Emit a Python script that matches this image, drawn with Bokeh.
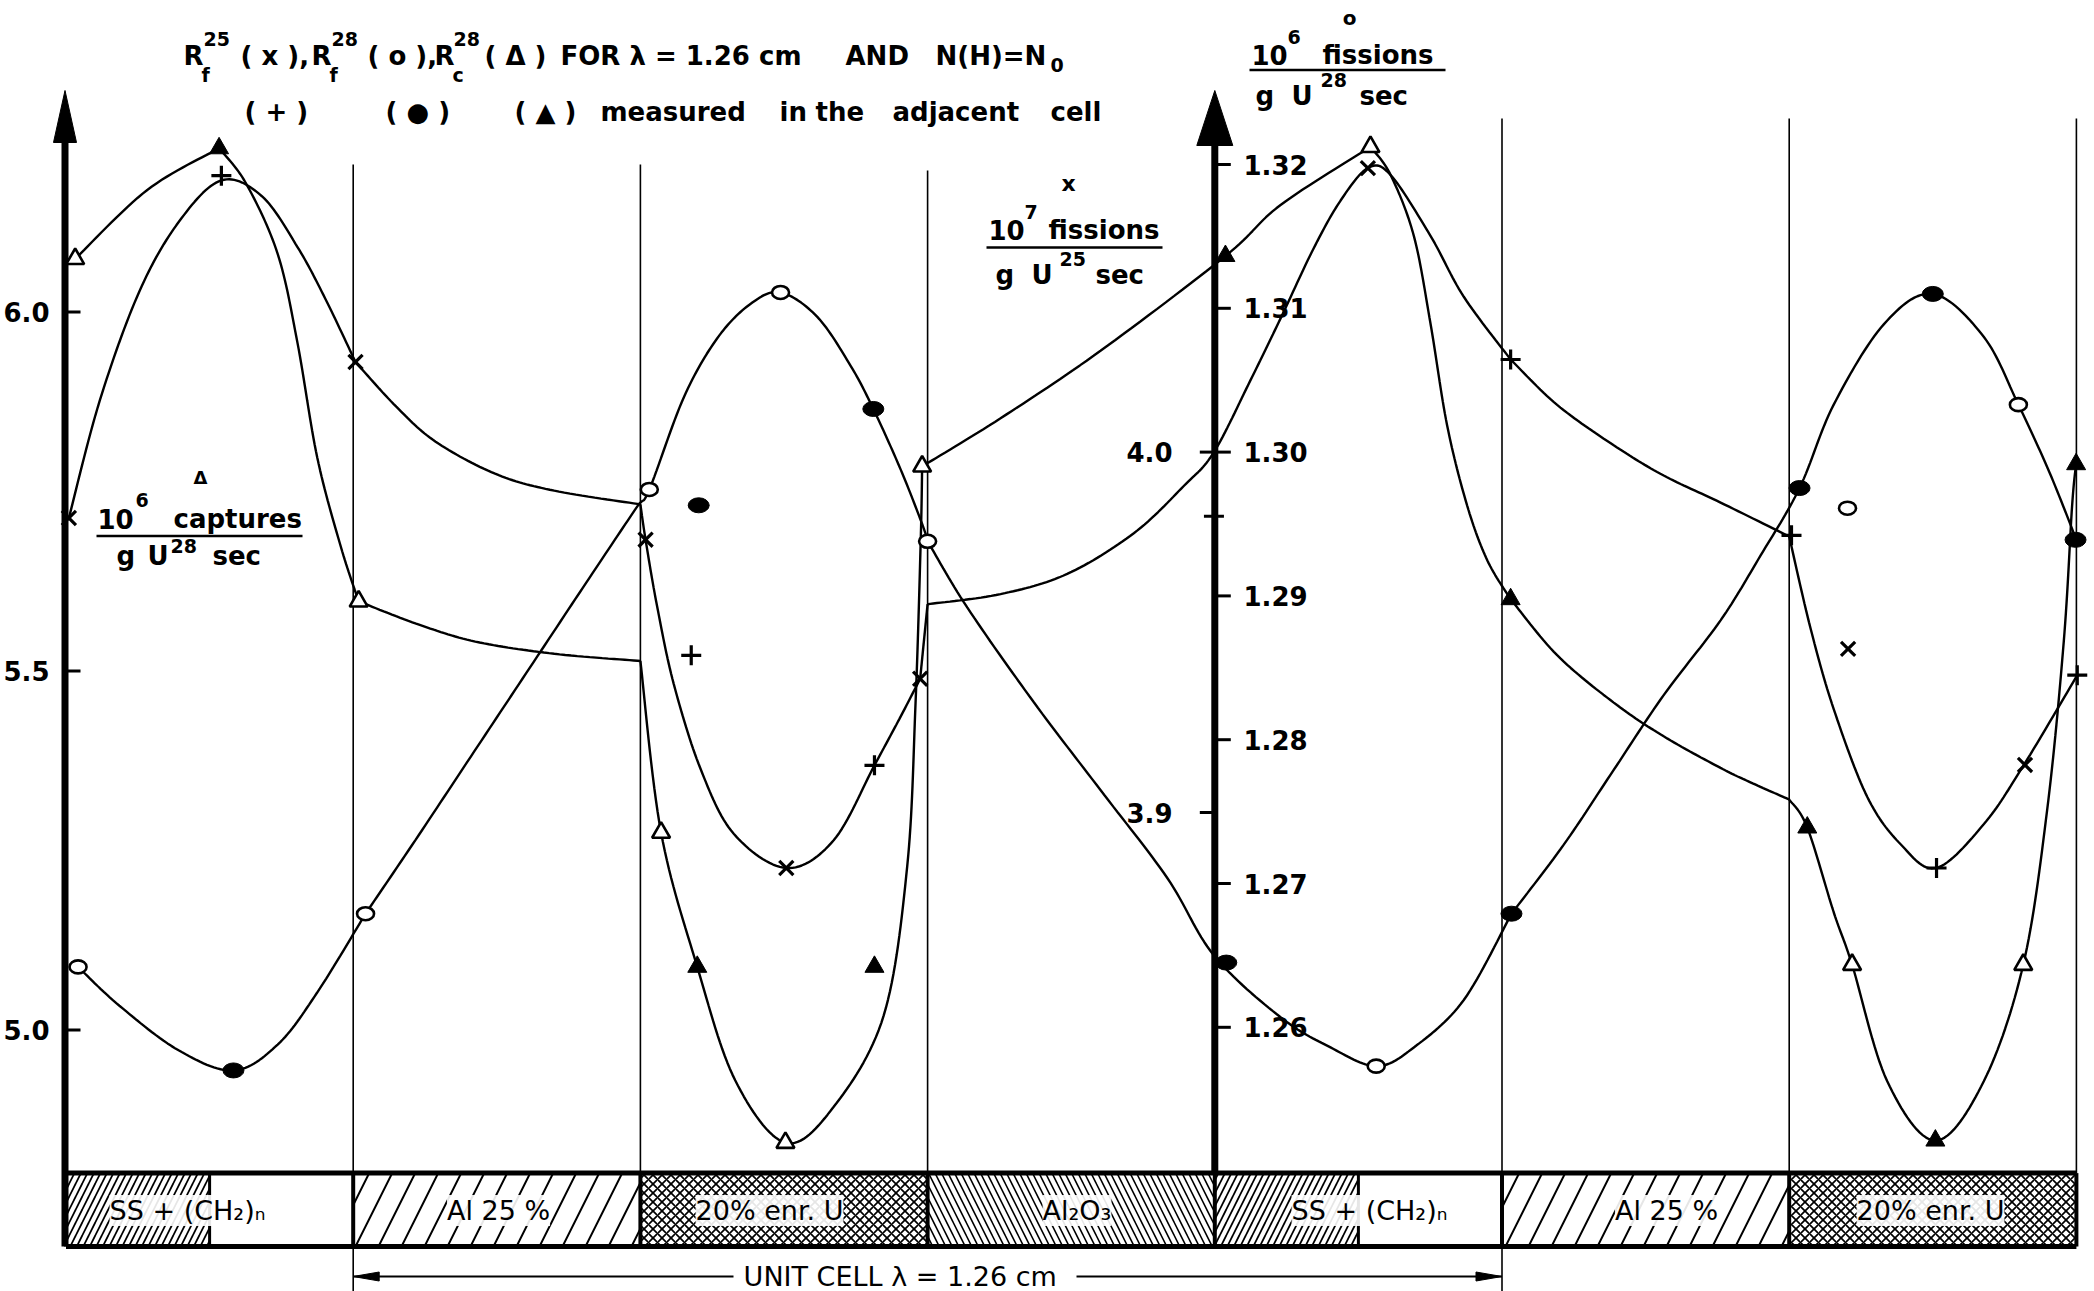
import numpy as np
from bokeh.plotting import figure
from bokeh.models import Range1d, FixedTicker, Label
from bokeh.embed import file_html
from bokeh.resources import INLINE

# ---------------------------------------------------------------- data
# x position in layer units: 0 = left face of the first SS layer, 1 unit per layer
LAYERS = ["SS + (CH₂)ₙ", "Al 25 %", "20% enr. U", "Al₂O₃", "SS + (CH₂)ₙ", "Al 25 %", "20% enr. U"]

CAPT_TICKS = [5.0, 5.5, 6.0]                                   # 10^6 captures / g U28 sec
F25_TICKS = [3.9, 4.0]                                         # 10^7 fissions / g U25 sec
F28_TICKS = [1.26, 1.27, 1.28, 1.29, 1.30, 1.31, 1.32]         # 10^6 fissions / g U28 sec

# R_c^28 : open = measured in this cell, filled = adjacent cell
RC_POS = [0.032, 1.019, 2.072, 2.505, 2.981, 4.542, 6.219, 6.815]
RC_VAL = [6.074, 5.597, 5.275, 4.843, 5.785, 6.230, 5.091, 5.091]
RC_ADJ_POS = [0.533, 2.198, 2.815, 4.037, 5.030, 6.063, 6.509, 6.999]
RC_ADJ_VAL = [6.228, 5.088, 5.088, 6.078, 5.600, 5.282, 4.846, 5.788]

# R_f^25
RF25_POS = [0.010, 1.008, 2.018, 2.508, 2.974, 4.533, 6.205, 6.821]
RF25_VAL = [3.9817, 4.0250, 3.9757, 3.8846, 3.9371, 4.0788, 3.9454, 3.9132]
RF25_ADJ_POS = [0.541, 2.177, 2.815, 3.997, 5.030, 6.008, 6.513, 7.003]
RF25_ADJ_VAL = [4.0767, 3.9436, 3.9131, 3.9822, 4.0257, 3.9769, 3.8846, 3.9381]

# R_f^28
RF28_POS = [0.042, 1.043, 2.031, 2.488, 3.000, 4.562, 6.203, 6.798]
RF28_VAL = [1.2642, 1.2679, 1.2974, 1.3111, 1.2938, 1.2573, 1.2961, 1.3033]
RF28_ADJ_POS = [0.583, 2.203, 2.811, 4.040, 5.033, 6.036, 6.500, 6.997]
RF28_ADJ_VAL = [1.2570, 1.2963, 1.3030, 1.2645, 1.2679, 1.2975, 1.3110, 1.2939]

# hand-fitted distribution curves, one list per piece between kinks
RC_CURVE = [
    [(0.032, 6.074), (0.283, 6.170), (0.533, 6.228)],
    [(0.533, 6.228), (0.627, 6.179), (0.737, 6.081), (0.806, 5.957), (0.875, 5.797),
     (0.957, 5.673), (1.019, 5.597)],
    [(1.019, 5.597), (1.219, 5.566), (1.425, 5.541), (1.700, 5.524), (2.000, 5.514)],
    [(2.000, 5.514), (2.072, 5.275), (2.198, 5.088), (2.330, 4.930), (2.505, 4.843),
     (2.673, 4.893), (2.847, 5.020), (2.929, 5.228), (2.958, 5.455), (2.976, 5.681),
     (2.981, 5.785)],
    [(2.981, 5.785), (3.254, 5.852), (3.602, 5.946), (4.037, 6.078), (4.229, 6.149),
     (4.542, 6.230)],
    [(4.542, 6.230), (4.612, 6.191), (4.693, 6.106), (4.751, 5.984), (4.809, 5.842),
     (4.879, 5.730), (4.949, 5.654), (5.030, 5.600)],
    [(5.030, 5.600), (5.192, 5.522), (5.389, 5.456), (5.563, 5.409), (5.761, 5.365),
     (5.865, 5.345), (6.000, 5.321)],
    [(6.000, 5.321), (6.063, 5.282), (6.155, 5.164), (6.219, 5.091), (6.341, 4.929),
     (6.509, 4.846), (6.678, 4.929), (6.815, 5.091), (6.898, 5.306), (6.956, 5.541),
     (6.985, 5.730), (6.999, 5.788)],
]
RF25_CURVE = [
    [(0.010, 3.9817), (0.118, 4.0144), (0.255, 4.0445), (0.393, 4.0639), (0.541, 4.0754),
     (0.682, 4.0710), (0.806, 4.0569), (0.902, 4.0427), (1.008, 4.0250)],
    [(1.008, 4.0250), (1.150, 4.0126), (1.287, 4.0029), (1.494, 3.9940), (1.700, 3.9893),
     (2.000, 3.9855)],
    [(2.000, 3.9855), (2.018, 3.9757), (2.058, 3.9573), (2.116, 3.9357), (2.209, 3.9122),
     (2.325, 3.8941), (2.508, 3.8846), (2.673, 3.8923), (2.815, 3.9131), (2.906, 3.9266),
     (2.974, 3.9371)],
    [(2.974, 3.9371), (3.000, 3.9578)],
    [(3.000, 3.9578), (3.254, 3.9606), (3.486, 3.9662), (3.718, 3.9775), (3.892, 3.9906),
     (3.997, 4.0000), (4.124, 4.0199), (4.229, 4.0371), (4.344, 4.0565), (4.438, 4.0698),
     (4.533, 4.0788), (4.612, 4.0769), (4.751, 4.0600), (4.867, 4.0431), (5.030, 4.0257)],
    [(5.030, 4.0257), (5.192, 4.0131), (5.389, 4.0019), (5.563, 3.9935), (5.761, 3.9860),
     (6.000, 3.9766)],
    [(6.000, 3.9766), (6.074, 3.9512), (6.155, 3.9287), (6.272, 3.9043), (6.388, 3.8912),
     (6.512, 3.8846), (6.678, 3.8968), (6.817, 3.9132), (7.003, 3.9381)],
]
RF28_CURVE = [
    [(0.042, 1.2642), (0.186, 1.2615), (0.392, 1.2584), (0.583, 1.2570), (0.737, 1.2588),
     (0.874, 1.2624), (1.043, 1.2679)],
    [(1.043, 1.2679), (1.216, 1.2730), (1.422, 1.2792), (1.628, 1.2854), (1.834, 1.2916),
     (1.985, 1.2961), (2.031, 1.2974), (2.151, 1.3038), (2.267, 1.3079), (2.383, 1.3103),
     (2.488, 1.3111), (2.616, 1.3094), (2.732, 1.3060), (2.811, 1.3030), (2.906, 1.2988),
     (2.981, 1.2950), (3.000, 1.2938)],
    [(3.000, 1.2938), (3.138, 1.2892), (3.370, 1.2826), (3.602, 1.2765), (3.834, 1.2704),
     (3.997, 1.2650), (4.229, 1.2607), (4.403, 1.2586), (4.562, 1.2573), (4.693, 1.2586),
     (4.867, 1.2619), (5.033, 1.2679)],
    [(5.033, 1.2679), (5.215, 1.2727), (5.389, 1.2779), (5.563, 1.2831), (5.761, 1.2883),
     (5.900, 1.2928), (6.036, 1.2975), (6.155, 1.3033), (6.330, 1.3089), (6.500, 1.3110),
     (6.678, 1.3080), (6.798, 1.3033), (6.906, 1.2986), (7.000, 1.2939)],
]

# ---------------------------------------------------------------- layout helpers
W, H = 2094, 1291
FRAME_LEFT = 52
U0_PX, U_PX = 65.5, 287.2          # canvas column of x = 0 and pixels per layer


def ux(px):
    return (px - U0_PX) / U_PX


def cy(py):                         # captures scale (primary range)
    return 6.0 - (py - 311.5) / 718.0


def f25y(py):
    return 4.0 - (py - 451.6) / 3604.0


def f28y(py):
    return 1.30 - (py - 451.6) / 14380.0


def smooth(piece, n=16):
    pts = np.asarray(piece, dtype=float)
    if len(pts) < 3:
        return pts[:, 0], pts[:, 1]
    P = np.vstack([pts[0], pts, pts[-1]])
    t = np.linspace(0, 1, n, endpoint=False)[:, None]
    out = []
    for i in range(1, len(P) - 2):
        p0, p1, p2, p3 = P[i - 1], P[i], P[i + 1], P[i + 2]
        out.append(0.5 * (2 * p1 + (p2 - p0) * t + (2 * p0 - 5 * p1 + 4 * p2 - p3) * t ** 2
                          + (3 * p1 - p0 - 3 * p2 + p3) * t ** 3))
    out.append(pts[-1:])
    out = np.vstack(out)
    return out[:, 0], out[:, 1]


FONT = "DejaVu Sans"

p = figure(width=W, height=H, title=None,
           x_range=Range1d(ux(FRAME_LEFT), ux(W)), y_range=Range1d(cy(H), cy(0)),
           x_axis_location=None, y_axis_location="left",
           output_backend="svg", toolbar_location=None,
           min_border_left=FRAME_LEFT, min_border_right=0, min_border_top=0, min_border_bottom=0)
p.extra_y_ranges = {"f25": Range1d(f25y(H), f25y(0)), "f28": Range1d(f28y(H), f28y(0))}
p.outline_line_color = None
p.grid.visible = False
p.background_fill_color = "white"
p.border_fill_color = "white"

ax = p.yaxis[0]
ax.ticker = FixedTicker(ticks=CAPT_TICKS)
ax.major_label_overrides = {t: f"{t:.1f}" for t in CAPT_TICKS}
ax.axis_line_color = None
ax.major_tick_line_color = None
ax.minor_tick_line_color = None
ax.major_tick_out = 0
ax.major_tick_in = 0
ax.major_label_standoff = 3
ax.major_label_text_font = FONT
ax.major_label_text_font_size = "26px"
ax.major_label_text_font_style = "bold"
ax.major_label_text_color = "black"

# ---------------------------------------------------------------- layer strip
S_TOP, S_BOT = cy(1172.6), cy(1246.0)
n_lay = len(LAYERS)
p.quad(left=[0], right=[n_lay], bottom=[S_BOT], top=[S_TOP], fill_color="white", line_color=None)
hatch_style = {
    "SS": dict(hatch_pattern="/", hatch_scale=13, hatch_weight=1.7),
    "Al": dict(hatch_pattern="/", hatch_scale=46, hatch_weight=2.0),
    "U": dict(hatch_pattern="x", hatch_scale=9, hatch_weight=1.7),
    "Ox": dict(hatch_pattern="\\", hatch_scale=13, hatch_weight=1.6),
}
for i, name in enumerate(LAYERS):
    key = "SS" if name.startswith("SS") else "Ox" if "O" in name else "U" if "U" in name else "Al"
    right = i + 0.5 if key == "SS" else i + 1
    p.quad(left=[i], right=[right], bottom=[S_BOT], top=[S_TOP], fill_color="white",
           line_color=None, hatch_color="black", **hatch_style[key])

bounds = list(range(n_lay + 1))
p.segment(x0=bounds, x1=bounds, y0=[S_BOT] * len(bounds), y1=[S_TOP] * len(bounds),
          line_color="black", line_width=4)
ss_div = [i + 0.5 for i, n in enumerate(LAYERS) if n.startswith("SS")]
p.segment(x0=ss_div, x1=ss_div, y0=[S_BOT] * len(ss_div), y1=[S_TOP] * len(ss_div),
          line_color="black", line_width=3)
p.segment(x0=[0, 0], x1=[n_lay, n_lay], y0=[S_TOP, S_BOT], y1=[S_TOP, S_BOT],
          line_color="black", line_width=5)

# thin layer boundaries above the strip
thin_x = [1, 2, 3, 5, 6, 7]
thin_top = [cy(164), cy(164), cy(170), cy(118), cy(118), cy(118)]
p.segment(x0=thin_x, x1=thin_x, y0=[S_TOP] * 6, y1=thin_top, line_color="black", line_width=1.6)
p.segment(x0=[1, 5], x1=[1, 5], y0=[S_BOT] * 2, y1=[cy(H)] * 2, line_color="black", line_width=1.6)

# unit cell arrow
ya = cy(1276)
p.segment(x0=[1.0, ux(1076)], x1=[ux(733), 5.0], y0=[ya, ya], y1=[ya, ya], line_color="black", line_width=2)
p.patches(xs=[[1.0, ux(352.7 + 26), ux(352.7 + 26)], [5.0, ux(1501.5 - 26), ux(1501.5 - 26)]],
          ys=[[ya, cy(1271.5), cy(1280.5)], [ya, cy(1271.5), cy(1280.5)]],
          fill_color="black", line_color="black")

# ---------------------------------------------------------------- curves
LW = 2.4
for piece in RC_CURVE:
    xs, ys = smooth(piece)
    p.line(xs, ys, line_color="black", line_width=LW)
for piece in RF25_CURVE:
    xs, ys = smooth(piece)
    p.line(xs, ys, line_color="black", line_width=LW, y_range_name="f25")
for piece in RF28_CURVE:
    xs, ys = smooth(piece)
    p.line(xs, ys, line_color="black", line_width=LW, y_range_name="f28")

# ---------------------------------------------------------------- axes drawn inside the frame
AXL = ux(64.5)
p.segment(x0=[AXL], x1=[AXL], y0=[cy(1246)], y1=[cy(130)], line_color="black", line_width=7)
p.patch(x=[ux(53), AXL, ux(76)], y=[cy(142), cy(90), cy(142)], fill_color="black", line_color="black")
p.segment(x0=[ux(66)] * 3, x1=[ux(80)] * 3, y0=CAPT_TICKS, y1=CAPT_TICKS, line_color="black", line_width=3)

AXM = 4.0
p.segment(x0=[AXM], x1=[AXM], y0=[S_TOP], y1=[cy(135)], line_color="black", line_width=7)
p.patch(x=[AXM - 18 / U_PX, AXM, AXM + 18 / U_PX], y=[cy(145), cy(90), cy(145)],
        fill_color="black", line_color="black")
p.segment(x0=[AXM - 15 / U_PX] * 2, x1=[AXM] * 2, y0=F25_TICKS, y1=F25_TICKS,
          line_color="black", line_width=3, y_range_name="f25")
p.text(x=[ux(1172)] * 2, y=F25_TICKS, text=[f"{t:.1f}" for t in F25_TICKS], y_range_name="f25",
       text_align="right", text_baseline="middle", text_font_size="26px",
       text_font_style="bold", text_font={"value": FONT}, text_color="black")
p.segment(x0=[AXM] * 7, x1=[AXM + 16 / U_PX] * 7, y0=F28_TICKS, y1=F28_TICKS,
          line_color="black", line_width=3, y_range_name="f28")
p.text(x=[ux(1243)] * 7, y=F28_TICKS, text=[f"{t:.2f}" for t in F28_TICKS], y_range_name="f28",
       text_align="left", text_baseline="middle", text_font_size="26px",
       text_font_style="bold", text_font={"value": FONT}, text_color="black")

# ---------------------------------------------------------------- markers
p.scatter(RC_POS, RC_VAL, marker="triangle", size=18, fill_color="white", line_color="black", line_width=2.6)
p.scatter(RC_ADJ_POS, RC_ADJ_VAL, marker="triangle", size=19, fill_color="black", line_color="black")
p.scatter(RF25_POS, RF25_VAL, marker="x", size=20, line_color="black", line_width=3.2, y_range_name="f25")
p.scatter(RF25_ADJ_POS, RF25_ADJ_VAL, marker="cross", size=20, line_color="black", line_width=3.2,
          y_range_name="f25")
p.ellipse(RF28_POS, RF28_VAL, width=17, height=13, width_units="screen", height_units="screen",
          fill_color="white", line_color="black", line_width=2.6, y_range_name="f28")
p.ellipse(RF28_ADJ_POS, RF28_ADJ_VAL, width=21, height=15, width_units="screen", height_units="screen",
          fill_color="black", line_color="black", y_range_name="f28")


# ---------------------------------------------------------------- texts
def txt(px, py, s, size=26, align="left", baseline="alphabetic", style="bold", bg=None):
    lab = Label(x=ux(px), y=cy(py), text=s, text_font=FONT, text_font_size=f"{size}px",
                text_font_style=style, text_align=align, text_baseline=baseline, text_color="black")
    if bg is not None:
        lab.background_fill_color = "white"
        lab.background_fill_alpha = bg
    p.add_layout(lab)


# heading
txt(183, 55, "R")
txt(203, 38, "25", 19)
txt(201, 74, "f", 19)
txt(240, 55, "( x ),")
txt(311, 55, "R")
txt(331, 38, "28", 19)
txt(329, 74, "f", 19)
txt(367, 55, "( o ),")
txt(434, 55, "R")
txt(453, 38, "28", 19)
txt(452, 74, "c", 19)
txt(484, 55, "( Δ )")
txt(560, 55, "FOR λ = 1.26 cm")
txt(845, 55, "AND")
txt(935, 55, "N(H)=N")
txt(1050, 64, "0", 19)

txt(244, 111, "( + )")
txt(385, 111, "( ● )")
txt(514, 111, "( ▲ )")
for wx, word in [(600, "measured"), (779, "in"), (815, "the"), (892, "adjacent"), (1050, "cell")]:
    txt(wx, 111, word)

# unit labels of the three scales
txt(200, 477, "Δ", 18, align="center", baseline="middle")
txt(97, 518, "10")
txt(135, 499, "6", 19)
txt(173, 518, "captures")
txt(116, 555, "g")
txt(147, 555, "U")
txt(170, 545, "28", 19)
txt(212, 555, "sec")

txt(1068, 183, "x", 22, align="center", baseline="middle")
txt(988, 229, "10")
txt(1024, 211, "7", 19)
txt(1048, 229, "fissions")
txt(995, 274, "g")
txt(1031, 274, "U")
txt(1059, 258, "25", 19)
txt(1095, 274, "sec")

txt(1349, 17, "o", 20, align="center", baseline="middle")
txt(1251, 54, "10")
txt(1287, 36, "6", 19)
txt(1322, 54, "fissions")
txt(1255, 95, "g")
txt(1291, 95, "U")
txt(1320, 79, "28", 19)
txt(1359, 95, "sec")

p.segment(x0=[ux(96), ux(986), ux(1249)], x1=[ux(302), ux(1162), ux(1445)],
          y0=[cy(535.5), cy(247), cy(69.4)], y1=[cy(535.5), cy(247), cy(69.4)],
          line_color="black", line_width=2.5)

# strip labels
strip_label_px = [187, 498, 769, 1076.5, 1369, 1666, 1930]
for name, cx in zip(LAYERS, strip_label_px):
    txt(cx, 1210, name, 27, align="center", baseline="middle", style="normal", bg=0.9)
txt(904, 1276, "UNIT CELL  λ = 1.26 cm", 27, align="center", baseline="middle", style="normal")

open("out.html", "w").write(file_html(p, INLINE))
